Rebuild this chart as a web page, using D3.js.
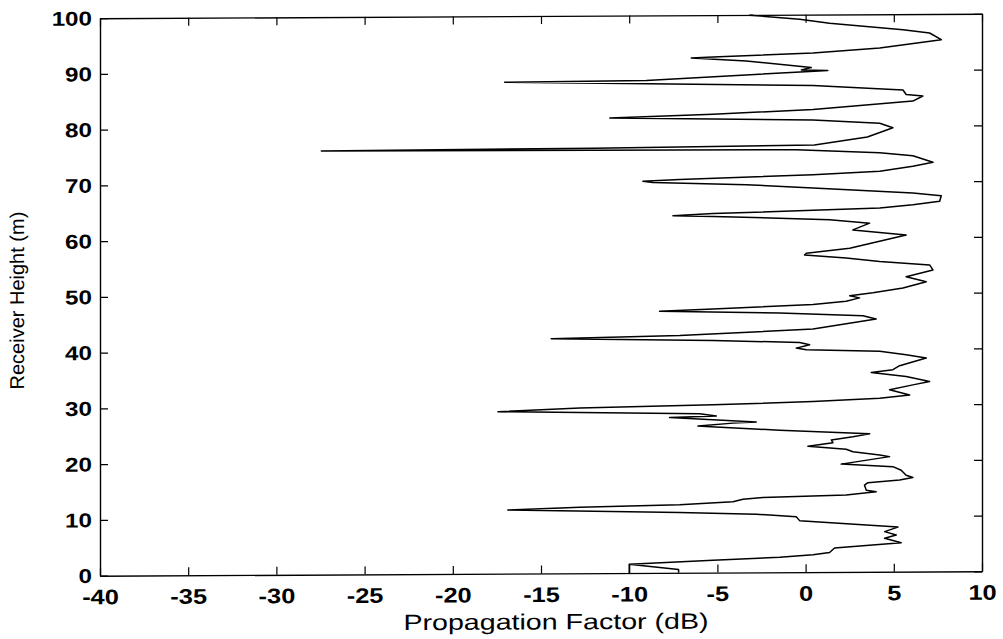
<!DOCTYPE html>
<html><head><meta charset="utf-8">
<script src="https://cdn.jsdelivr.net/npm/d3@7"></script>
<style>body{margin:0;background:#fff}svg{display:block}</style>
</head><body>
<svg id="c" width="1003" height="639"></svg>
<script>
// [receiver height (m), propagation factor (dB)]
const profile = [
[0,-7.2],[0.6,-7.2],[1.6,-10],[0,-10],[1.6,-10],[2.2,-5.25],[2.7,-1.47],[3.1,0.42],[3.5,1.36],[4.3,1.64],
[4.7,3.25],[5.2,5.42],[6.0,4.48],[6.6,5.14],[7.2,4.48],[8.0,5.23],[9.25,-0.34],[9.95,-0.53],[10.45,-2.8],[10.8,-7.14],
[11.4,-16.88],[11.85,-12.8],[12.2,-7.14],[12.7,-4.12],[13.15,-3.55],[13.45,-2.42],[13.8,2.3],[14.35,4.0],[14.65,3.44],[15.55,3.34],
[16.0,3.53],[16.45,5.33],[16.9,6.08],[17.3,5.7],[18.2,5.42],[18.85,4.95],[19.35,2.02],[20.65,4.76],[20.95,4.2],[21.55,2.68],
[22.0,2.3],[22.6,0.13],[23.2,1.55],[23.7,1.46],[24.25,2.68],[24.75,3.63],[25.5,-1.47],[26.2,-5.63],[26.3,-6.1],[26.8,-4.12],
[27.0,-2.8],[27.85,-7.71],[28.1,-5.06],[28.5,-6.0],[29.05,-17.44],[29.65,-12.8],[30.1,-5.25],[30.6,0.42],[31.15,4.2],[31.7,5.9],
[32.65,4.76],[33.5,6.08],[34.1,7.03],[35.0,5.7],[35.75,3.72],[36.25,4.95],[36.95,5.33],[38.3,6.84],[38.9,5.7],[39.55,4.2],
[39.9,0.04],[40.2,-0.53],[40.8,0.23],[41.2,-0.34],[41.65,-5.25],[42.1,-14.42],[42.55,-7.14],[43.6,0.42],[45.35,4.0],[45.95,3.25],
[46.5,-1.47],[46.95,-8.28],[47.3,-5.25],[48.0,0.42],[48.55,2.3],[49.15,3.06],[49.55,2.5],[50.05,3.82],[50.9,5.52],[52.0,6.84],
[52.9,5.7],[54.1,7.22],[55.0,7.03],[55.65,4.2],[56.3,2.3],[56.9,-0.06],[57.2,0.04],[58.05,2.5],[60.4,5.7],[61.35,2.68],
[62.55,3.63],[63.2,1.36],[63.9,-5.25],[64.05,-7.52],[64.4,-5.25],[64.9,0.42],[65.25,4.2],[65.8,6.08],[66.4,7.6],[67.4,7.69],
[67.9,6.08],[68.9,0.42],[69.55,-3.36],[70.05,-8.66],[70.25,-9.22],[70.55,-7.14],[71.3,0.42],[71.85,4.2],[72.7,6.08],[73.4,7.22],
[74.6,6.08],[75.15,4.2],[75.8,-0.53],[76.0,-27.45],[76.25,-12],[76.6,0.5],[78.0,3.5],[79.65,4.95],[80.45,4.2],[81.1,0.42],
[81.65,-11.1],[82.2,-5.25],[83.0,0.42],[84.4,6.08],[85.3,6.65],[85.6,5.7],[86.4,5.52],[87.3,0.42],[88.15,-17.06],[88.35,-9.03],
[89.8,0.23],[89.95,1.26],[90.1,-0.24],[90.5,0.32],[91.75,-3.36],[92.35,-6.48],[92.5,-5.25],[93.1,0.42],[93.95,4.2],[95.4,7.69],
[96.6,7.03],[97.2,5.52],[98.45,1.36],[99.2,-0.34],[99.95,-3.17],[100,-2.99]
];
const xTicks = [-40,-35,-30,-25,-20,-15,-10,-5,0,5,10];
const yTicks = [0,10,20,30,40,50,60,70,80,90,100];
const xTitle = "Propagation Factor (dB)";
const yTitle = "Receiver Height (m)";

const L=100, R=982, T=16, B=573.5;
const x = d3.scaleLinear().domain([-40,10]).range([L,R]);
const y = d3.scaleLinear().domain([0,100]).range([B,T]);
const FONT = "'Liberation Sans', Arial, Helvetica, sans-serif";
const SX = 1.21;
const fmt = d => String(d);   // plain hyphen-minus like the original

const svg = d3.select("#c");
const g = svg.append("g").attr("transform","translate(0,2.7) skewY(-0.2865)");

// curve
g.append("path").datum(profile)
 .attr("d", d3.line().x(d=>x(d[1])).y(d=>y(d[0])))
 .attr("fill","none").attr("stroke","#000").attr("stroke-width",1.5)
 .attr("stroke-linejoin","round");

function styleAxis(sel){
  sel.select(".domain").attr("stroke","#000").attr("stroke-width",1.4);
  sel.selectAll(".tick line").attr("stroke","#000").attr("stroke-width",1.2);
}
// bottom
const ax = g.append("g").attr("transform",`translate(0,${B})`)
 .call(d3.axisBottom(x).tickValues(xTicks).tickSizeInner(-8).tickSizeOuter(0).tickFormat(fmt));
styleAxis(ax);
ax.selectAll(".tick text").attr("fill","#000").attr("font-family",FONT).attr("font-weight","bold")
  .attr("font-size",21).attr("y",28.5).attr("dy",0).attr("transform",`scale(${SX},1)`);
// top
const at = g.append("g").attr("transform",`translate(0,${T})`)
 .call(d3.axisTop(x).tickValues(xTicks).tickSizeInner(-8).tickSizeOuter(0).tickFormat(""));
styleAxis(at);
// left
const al = g.append("g").attr("transform",`translate(${L},0)`)
 .call(d3.axisLeft(y).tickValues(yTicks).tickSizeInner(-8).tickSizeOuter(0).tickFormat(fmt));
styleAxis(al);
al.selectAll(".tick text").attr("fill","#000").attr("font-family",FONT).attr("font-weight","bold")
  .attr("font-size",20).attr("x",-8/SX).attr("dy","0.34em").attr("transform",`scale(${SX},1)`);
// right
const ar = g.append("g").attr("transform",`translate(${R},0)`)
 .call(d3.axisRight(y).tickValues(yTicks).tickSizeInner(-8).tickSizeOuter(0).tickFormat(""));
styleAxis(ar);

// titles
g.append("text").attr("transform",`translate(556,629.4) scale(1.3,1)`)
 .attr("text-anchor","middle").attr("font-family",FONT).attr("font-size",22).attr("fill","#000").text(xTitle);
g.append("text").attr("transform",`translate(24,298) rotate(-90)`)
 .attr("text-anchor","middle").attr("font-family",FONT).attr("font-size",20).attr("fill","#000").text(yTitle);
</script>
</body></html>
